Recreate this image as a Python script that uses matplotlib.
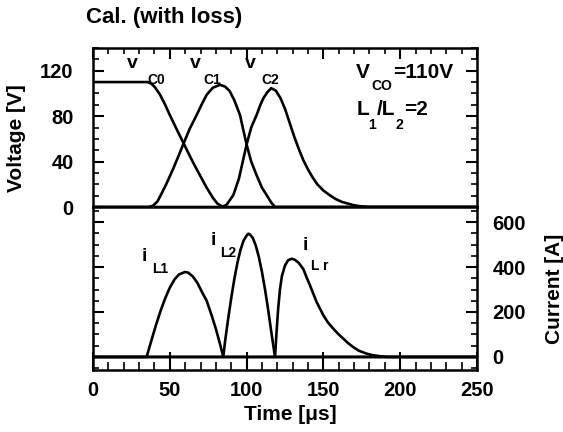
import matplotlib
matplotlib.use("Agg")
import matplotlib.pyplot as plt
from matplotlib.ticker import MultipleLocator

plt.rcParams['font.family'] = ['Liberation Sans', 'DejaVu Sans']
plt.rcParams['font.weight'] = 'bold'

# ---------------- data ----------------
t_vc0 = [0, 35.8, 38, 40, 43.6, 47, 50, 55, 59, 63, 66, 69.6, 74, 78.3, 81, 84, 86, 250]
v_c0 = [110, 110, 108.5, 106, 99, 90, 81, 67, 56, 45, 37, 28, 17, 7.6, 3, 0.5, 0, 0]

t_vc1 = [0, 36, 39, 42, 44.7, 48, 52.3, 56, 59, 63, 67.5, 71, 74, 78, 82.7, 86, 89, 92, 95.7, 98,
         100, 103, 106.5, 110, 113, 116, 118.5, 250]
v_c1 = [0, 0, 1, 5, 12, 21, 34, 46, 56, 69, 81, 91, 98.8, 105, 107.6, 106, 102, 94, 81, 67,
        55, 40, 28, 17, 10.6, 4, 0, 0]

t_vc2 = [0, 83.8, 87, 91.4, 95, 98, 100, 103, 106.5, 109, 111, 113.5, 116, 119, 122, 125, 128.3,
         131, 134, 137, 140, 143, 146, 150, 154, 158, 162, 166, 170, 175, 180, 250]
v_c2 = [0, 0, 2, 10.6, 25, 43, 55, 70, 81, 90, 96, 101, 104.6, 102.5, 96, 86.5, 73,
        62, 51, 41, 33, 26, 20, 14.5, 10.5, 7, 4.5, 3, 1.5, 0.5, 0, 0]

t_il1 = [0, 34.9, 38, 41, 44, 47, 50, 53, 56, 59.9, 62, 65, 68, 71, 74, 77, 80, 83, 84.8, 250]
i_l1 = [0, 0, 73, 142, 205, 261, 308, 344, 367, 378, 375, 358, 329, 288, 250, 190, 125, 50, 0, 0]

t_il2 = [0, 84.8, 86, 88, 90, 92, 94, 96, 98, 100, 101.1, 102, 104, 106, 108, 110, 112, 114, 116, 118.5, 250]
i_l2 = [0, 0, 70, 170, 262, 346, 418, 476, 517, 540, 548, 546, 530, 495, 444, 378, 300, 212, 115, 0, 0]

t_ilr = [0, 118.5, 119.5, 120.5, 121.7, 123, 125, 127, 129.4, 131.5, 134, 137, 139, 141.3, 143.5, 145.6,
         148, 150, 153, 156.4, 160, 163, 166, 169.4, 173, 178, 182, 187, 192, 250]
i_lr = [0, 0, 110, 210, 300, 360, 407, 430, 437, 432, 418, 390, 355, 318, 280, 244,
        212, 185, 153, 126, 100, 81, 62, 44, 28, 15, 8, 3, 0, 0]

x_ticks = [0, 50, 100, 150, 200, 250]
v_ticks = [0, 40, 80, 120]
i_ticks = [0, 200, 400, 600]

# ---------------- figure ----------------
W, H = 563, 432
fig = plt.figure(figsize=(W / 100, H / 100), dpi=100)

def fx(px):
    return px / W

def fy(py):
    return 1 - py / H

L, R = 93, 477
axv = fig.add_axes([fx(L), fy(207), fx(R) - fx(L), fy(48) - fy(207)])
axi = fig.add_axes([fx(L), fy(370), fx(R) - fx(L), fy(207) - fy(370)])

lw = 1.9
col = 'black'
for t, v in ((t_vc0, v_c0), (t_vc1, v_c1), (t_vc2, v_c2)):
    axv.plot(t, v, color=col, lw=lw, solid_joinstyle='round')
for t, v in ((t_il1, i_l1), (t_il2, i_l2), (t_ilr, i_lr)):
    axi.plot(t, v, color=col, lw=lw, solid_joinstyle='round')

for ax in (axv, axi):
    ax.set_xlim(0, 250)
    for s in ax.spines.values():
        s.set_linewidth(1.8)
    ax.xaxis.set_major_locator(MultipleLocator(50))
    ax.xaxis.set_minor_locator(MultipleLocator(10))

axv.set_ylim(0, 140)
axv.set_yticks(v_ticks)
axv.yaxis.set_minor_locator(MultipleLocator(10))
axv.tick_params(axis='x', which='both', direction='in', top=True, bottom=False, labelbottom=False)
axv.tick_params(axis='x', which='major', length=8, width=1.5)
axv.tick_params(axis='x', which='minor', length=4, width=1.2)
axv.tick_params(axis='y', which='both', direction='in', left=True, right=True)
axv.tick_params(axis='y', which='major', length=8, width=1.5, labelsize=14.5, pad=14)
axv.tick_params(axis='y', which='minor', length=4, width=1.2)

axi.set_ylim(-58, 667)
axi.set_yticks(i_ticks)
axi.yaxis.set_minor_locator(MultipleLocator(50))
axi.set_xticks(x_ticks)
axi.tick_params(axis='x', which='both', direction='in', top=False, bottom=True)
axi.tick_params(axis='x', which='major', length=13, width=1.5, labelsize=14.5, pad=8)
axi.tick_params(axis='x', which='minor', length=6, width=1.2)
axi.tick_params(axis='y', which='both', direction='in', left=True, right=True,
                labelleft=False, labelright=True)
axi.tick_params(axis='y', which='major', length=8, width=1.5, labelsize=14.5, pad=11)
axi.tick_params(axis='y', which='minor', length=4, width=1.2)

# ---------------- texts ----------------
fig.text(fx(86), fy(18), 'Cal. (with loss)', fontsize=16, fontweight='bold', ha='left', va='center')
fig.text(fx(17), fy(138), 'Voltage [V]', fontsize=15, fontweight='bold', rotation=90, ha='center', va='center')
fig.text(fx(554), fy(289), 'Current [A]', fontsize=15, fontweight='bold', rotation=90, ha='center', va='center')
fig.text(fx(290), fy(414), 'Time [\u03bcs]', fontsize=15, fontweight='bold', ha='center', va='center')

def lab(px, py, s, size, ha='left'):
    fig.text(fx(px), fy(py), s, fontsize=size, fontweight='bold', ha=ha, va='baseline')

# v labels
lab(127, 68, 'v', 14)
lab(147, 84, 'C0', 10)
lab(190, 68, 'v', 14)
lab(203, 84, 'C1', 10)
lab(245, 68, 'v', 14)
lab(261, 84, 'C2', 10)

# parameters
lab(356, 78, 'V', 15)
lab(371, 90, 'CO', 10)
lab(393, 78, '=110V', 15)
lab(357, 115, 'L', 15)
lab(368, 129, '1', 10)
lab(377, 115, '/L', 15)
lab(396, 129, '2', 10)
lab(404, 115, '=2', 15)

# current labels
lab(142, 261, 'i', 14)
lab(152, 273, 'L1', 10)
lab(211, 245, 'i', 14)
lab(220, 257, 'L2', 10)
lab(303, 250, 'i', 14)
lab(311, 270, 'L r', 10)

fig.savefig('out.png', dpi=100)
